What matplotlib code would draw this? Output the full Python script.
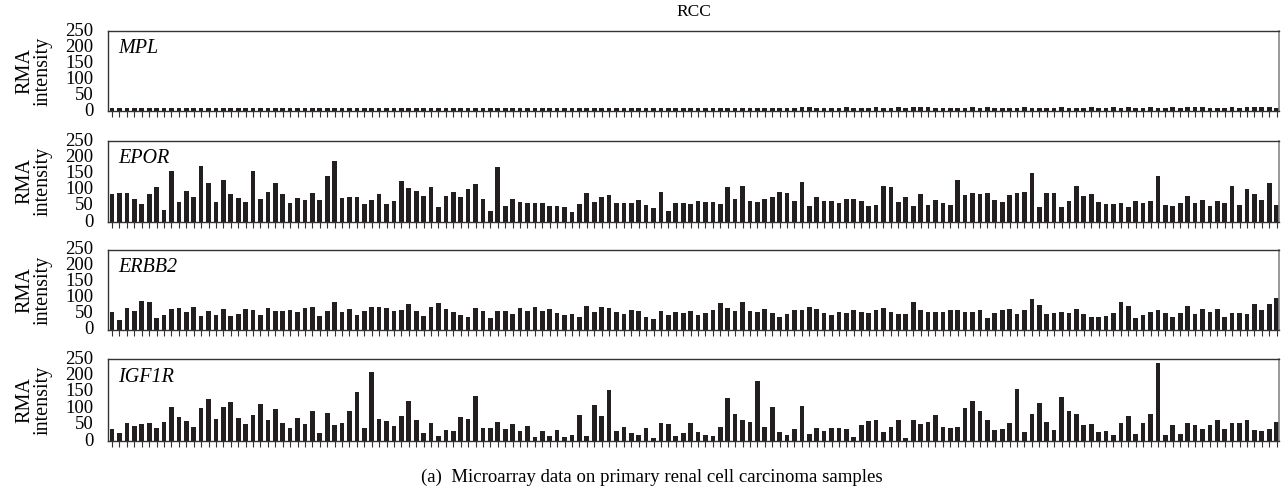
import matplotlib.pyplot as plt

plt.rcParams['font.family'] = ['Liberation Serif', 'DejaVu Serif']

genes = ['MPL', 'EPOR', 'ERBB2', 'IGF1R']

mpl_vals = [9, 9, 10, 9, 10, 9, 9, 9, 9, 9, 9, 9, 9, 9, 9, 9, 10, 9, 9, 9,
            10, 9, 9, 10, 10, 9, 9, 9, 10, 9, 9, 10, 9, 9, 9, 9, 10, 9, 9, 9,
            9, 9, 10, 9, 9, 9, 10, 9, 9, 9, 9, 10, 9, 9, 10, 9, 9, 9, 9, 10,
            10, 10, 9, 9, 10, 9, 9, 9, 9, 10, 9, 9, 10, 9, 9, 9, 9, 10, 9, 9,
            10, 9, 9, 9, 10, 9, 9, 9, 9, 9, 9, 9, 10, 11, 11, 9, 9, 9, 9, 11,
            10, 9, 9, 11, 10, 9, 11, 10, 11, 11, 11, 9, 9, 9, 9, 9, 11, 9, 11, 9,
            9, 9, 9, 11, 9, 9, 9, 9, 11, 9, 9, 9, 11, 9, 9, 11, 9, 11, 9, 9,
            11, 9, 9, 11, 9, 11, 11, 11, 9, 10, 9, 11, 9, 11, 11, 11, 11, 10]

epor_vals = [85, 90, 88, 70, 57, 85, 108, 37, 158, 62, 95, 76, 172, 120, 62, 130, 85, 75, 62, 158,
             70, 92, 120, 85, 60, 73, 68, 90, 68, 143, 188, 75, 77, 78, 56, 67, 85, 56, 65, 128,
             105, 97, 80, 108, 47, 80, 92, 77, 102, 118, 70, 35, 170, 50, 70, 63, 58, 58, 60, 50,
             50, 45, 32, 55, 88, 62, 78, 82, 60, 60, 58, 68, 52, 42, 93, 35, 58, 58, 55, 65,
             63, 63, 55, 108, 70, 112, 65, 62, 70, 77, 92, 88, 65, 122, 50, 77, 65, 65, 60, 70,
             72, 65, 50, 52, 111, 107, 62, 77, 48, 87, 52, 68, 58, 54, 129, 83, 90, 87, 90, 68,
             62, 83, 90, 94, 150, 45, 90, 90, 45, 65, 111, 80, 87, 62, 55, 55, 58, 45, 65, 58,
             65, 143, 52, 48, 58, 80, 58, 68, 48, 65, 58, 111, 52, 101, 87, 68, 121, 52]

erbb2_vals = [55, 32, 68, 60, 92, 88, 37, 48, 65, 68, 55, 73, 45, 60, 48, 65, 45, 50, 65, 63,
              48, 68, 58, 58, 62, 55, 68, 72, 45, 60, 88, 55, 65, 48, 60, 72, 72, 68, 60, 63,
              82, 60, 45, 73, 85, 65, 55, 48, 42, 70, 60, 38, 60, 58, 50, 68, 58, 72, 58, 65,
              52, 48, 50, 42, 75, 55, 72, 68, 55, 50, 63, 60, 42, 35, 58, 48, 55, 52, 58, 48,
              52, 62, 85, 68, 58, 88, 58, 55, 65, 52, 42, 50, 62, 62, 72, 65, 52, 48, 55, 52,
              62, 55, 52, 64, 68, 57, 50, 50, 89, 64, 57, 57, 57, 64, 61, 57, 57, 61, 39, 54,
              61, 67, 50, 64, 96, 77, 50, 54, 57, 54, 67, 50, 42, 42, 45, 54, 86, 74, 39, 46,
              57, 64, 54, 42, 54, 74, 50, 67, 57, 67, 42, 54, 54, 50, 82, 61, 82, 99]

igf1r_vals = [37, 23, 55, 45, 52, 55, 40, 58, 105, 72, 60, 43, 102, 128, 68, 105, 120, 70, 52, 80,
              113, 63, 98, 55, 40, 70, 53, 90, 25, 85, 48, 55, 90, 150, 40, 210, 68, 62, 45, 77,
              123, 65, 23, 55, 15, 35, 30, 73, 68, 136, 39, 39, 57, 37, 51, 30, 45, 12, 30, 16,
              33, 12, 19, 79, 16, 110, 76, 156, 30, 44, 23, 19, 40, 8, 54, 51, 16, 23, 54, 27,
              19, 16, 44, 132, 83, 64, 58, 184, 44, 103, 27, 19, 37, 107, 20, 40, 30, 40, 40, 37,
              12, 48, 61, 64, 27, 43, 64, 8, 64, 51, 57, 79, 44, 40, 43, 100, 123, 92, 64, 33,
              36, 54, 159, 27, 83, 116, 57, 33, 135, 92, 82, 48, 51, 27, 30, 19, 54, 76, 22, 54,
              82, 238, 19, 48, 22, 54, 48, 36, 48, 64, 36, 54, 54, 64, 33, 30, 36, 57]

series = [mpl_vals, epor_vals, erbb2_vals, igf1r_vals]
yticks = [0, 50, 100, 150, 200, 250]

W, H = 1285, 493
fig = plt.figure(figsize=(W / 100, H / 100), dpi=100)

# panel top/bottom in pixels
panels = [(31, 111), (141, 222), (250, 330), (359, 441)]
left_px, right_px = 108, 1279

for gene, vals, (top, bot) in zip(genes, series, panels):
    ax = fig.add_axes([left_px / W, 1 - bot / H, (right_px - left_px) / W, (bot - top) / H])
    n = len(vals)
    x = list(range(n))
    ax.bar(x, vals, width=0.63, color='#231f20', linewidth=0)
    ax.set_xlim(-0.55, n - 1 + 0.32)
    ax.set_ylim(0, 250)
    ax.set_yticks(yticks)
    ax.set_xticks(x)
    ax.set_xticklabels([])
    ax.tick_params(axis='x', direction='out', length=4, width=0.8, color='#333333')
    ax.tick_params(axis='y', length=0, pad=10.5, labelsize=13.5)
    for lab in ax.get_yticklabels():
        lab.set_verticalalignment('center')
    for s in ['left', 'bottom', 'top']:
        ax.spines[s].set_color('#333333')
        ax.spines[s].set_linewidth(1.0)
    ax.spines['right'].set_color('#888888')
    ax.spines['right'].set_linewidth(1.2)
    ax.text(0.009, 0.78, gene, transform=ax.transAxes, style='italic',
            fontsize=14.5, va='center', ha='left')
    ax.set_ylabel('RMA\nintensity', fontsize=14.5, linespacing=0.92, labelpad=9)
    if gene == 'MPL':
        ax.set_title('RCC', fontsize=12.5, pad=11)

fig.text(0.507, 1 - 477 / H, '(a)  Microarray data on primary renal cell carcinoma samples',
         ha='center', va='center', fontsize=13.5)

plt.savefig('out.png', dpi=100)
